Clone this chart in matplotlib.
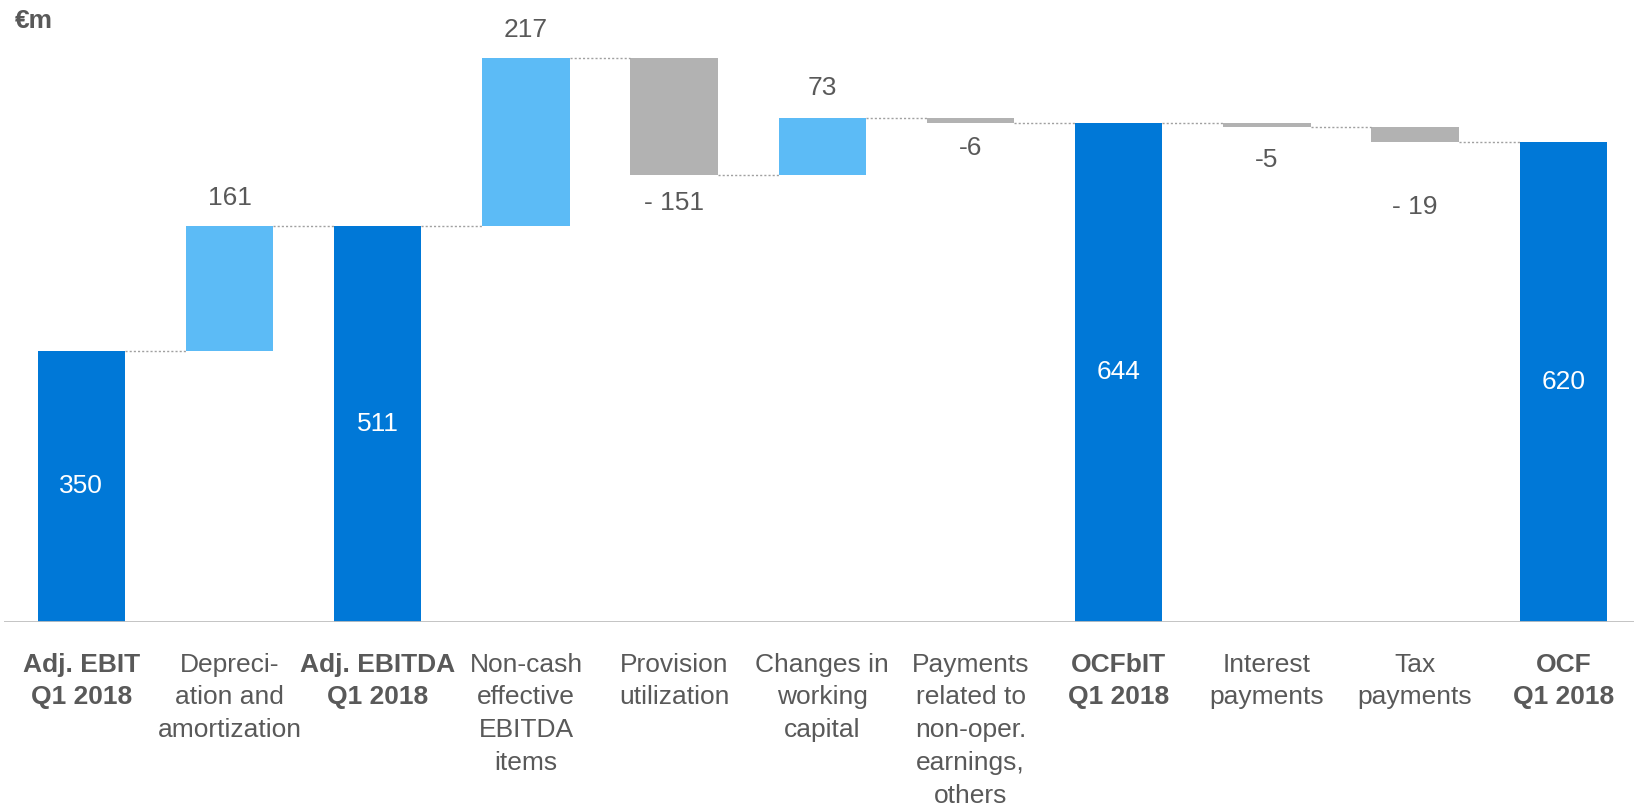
import matplotlib.pyplot as plt

# Waterfall data: cash flow bridge Q1 2018 (in EUR m)
categories = [
    "Adj. EBIT\nQ1 2018", "Depreci-\nation and\namortization", "Adj. EBITDA\nQ1 2018",
    "Non-cash\neffective\nEBITDA\nitems", "Provision\nutilization", "Changes in\nworking\ncapital",
    "Payments\nrelated to\nnon-oper.\nearnings,\nothers", "OCFbIT\nQ1 2018",
    "Interest\npayments", "Tax\npayments", "OCF\nQ1 2018",
]
values = [350, 161, 511, 217, -151, 73, -6, 644, -5, -19, 620]
is_total = [True, False, True, False, False, False, False, True, False, False, True]
value_labels = ["350", "161", "511", "217", "- 151", "73", "-6", "644", "-5", "- 19", "620"]

# label offsets (points) for the step labels
label_offsets = [0, 20, 0, 20, -20, 22, -18, 0, -24, -47, 0]

DARK_BLUE = "#0078D7"
LIGHT_BLUE = "#5CBBF6"
GREY = "#B2B2B2"
TEXT = "#595959"

plt.rcParams['font.family'] = ['Liberation Sans', 'DejaVu Sans']

fig = plt.figure(figsize=(16.34, 8.06), dpi=100)
ax = fig.add_axes([4 / 1634, 184 / 806, 1630 / 1634, 622 / 806])

width = 0.59
running = 0
for i, v in enumerate(values):
    if is_total[i]:
        b, t = 0, v
        running = v
        color = DARK_BLUE
    else:
        b, t = running, running + v
        running = t
        color = LIGHT_BLUE if v > 0 else GREY
    lo, hi = min(b, t), max(b, t)
    ax.bar(i, hi - lo, bottom=lo, width=width, color=color, linewidth=0)

    if is_total[i]:
        ax.text(i, v / 2, value_labels[i], ha='center', va='center',
                color='white', fontsize=19)
    else:
        y = hi if v > 0 else lo
        ax.annotate(value_labels[i], (i, y), xytext=(0, label_offsets[i]),
                    textcoords='offset points', ha='center', va='center',
                    color=TEXT, fontsize=19)

# dotted connectors at running totals
running = 0
for i, v in enumerate(values[:-1]):
    running = v if is_total[i] else running + v
    ax.plot([i + width / 2, i + 1 - width / 2], [running, running],
            color='#A0A0A0', linestyle=(0, (1.5, 1.5)), linewidth=1)

ax.axhline(0, color='#BFBFBF', linewidth=2)

ax.set_xlim(-0.522, 10.477)
ax.set_ylim(0, 802.6)
ax.set_xticks(range(len(categories)))
ax.set_xticklabels(categories, fontsize=19, color=TEXT, linespacing=1.47)
for lbl, tot in zip(ax.get_xticklabels(), is_total):
    if tot:
        lbl.set_fontweight('bold')
ax.tick_params(axis='x', length=0, pad=22)
ax.set_yticks([])
for s in ax.spines.values():
    s.set_visible(False)

fig.text(15 / 1634, 1 - 21 / 806, "€m", fontsize=19, fontweight='bold',
         color=TEXT, ha='left', va='center')

plt.savefig("out.png", dpi=100)
